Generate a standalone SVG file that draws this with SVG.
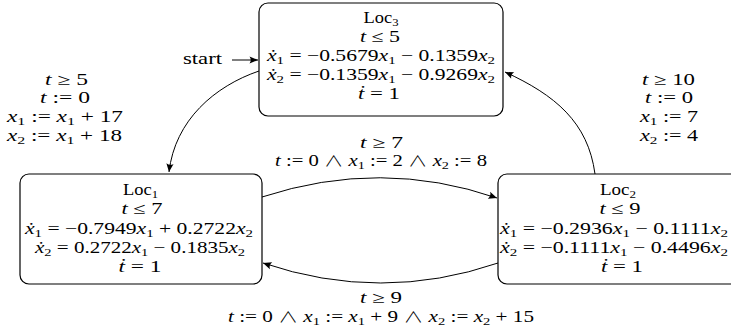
<svg xmlns="http://www.w3.org/2000/svg" width="731" height="329" viewBox="0 0 731 329">
<style>
text{font-family:"Liberation Serif","DejaVu Serif",serif;font-size:16px;fill:#000;text-anchor:middle}
.i{font-style:italic}
.s{font-size:11px}
.w{font-family:"Noto Sans CJK SC","DejaVu Sans",sans-serif;font-weight:300;font-size:15px}
.box{fill:#fff;stroke:#000;stroke-width:1.2}
.edge{fill:none;stroke:#000;stroke-width:1}
</style>
<defs>
<marker id="ah" viewBox="-10 -5 11 10" refX="0" refY="0" markerWidth="11" markerHeight="10" markerUnits="userSpaceOnUse" orient="auto">
<path d="M0,0 L-8.5,-3.6 Q-6,0 -8.5,3.6 Z" fill="#000"/>
</marker>
</defs>
<g id="connectors">
<path class="edge" d="M232,60 L258,60" marker-end="url(#ah)"/>
<path class="edge" d="M259,71 C215,86 175,120 169,172" marker-end="url(#ah)"/>
<path class="edge" d="M595,174 C588,122 555,95 505,72" marker-end="url(#ah)"/>
<path class="edge" d="M262,197 Q381,158 497,198" marker-end="url(#ah)"/>
<path class="edge" d="M498,263 Q381,303 263,263" marker-end="url(#ah)"/>
</g>
<g id="start">
<text x="202.5" y="64" textLength="39" lengthAdjust="spacingAndGlyphs">start</text>
</g>
<g id="loc3">
<rect class="box" x="259" y="3" width="244" height="113" rx="9"/>
<text x="381" y="23" textLength="35" lengthAdjust="spacingAndGlyphs">Loc<tspan class="s" dy="3">3</tspan></text>
<text x="380" y="42" textLength="40" lengthAdjust="spacingAndGlyphs"><tspan class="i">t</tspan> ≤ 5</text>
<text x="381" y="61" textLength="228" lengthAdjust="spacingAndGlyphs"><tspan class="i">ẋ</tspan><tspan class="s" dy="3">1</tspan><tspan dy="-3"> = −0.5679</tspan><tspan class="i">x</tspan><tspan class="s" dy="3">1</tspan><tspan dy="-3"> − 0.1359</tspan><tspan class="i">x</tspan><tspan class="s" dy="3">2</tspan></text>
<text x="381" y="80" textLength="228" lengthAdjust="spacingAndGlyphs"><tspan class="i">ẋ</tspan><tspan class="s" dy="3">2</tspan><tspan dy="-3"> = −0.1359</tspan><tspan class="i">x</tspan><tspan class="s" dy="3">1</tspan><tspan dy="-3"> − 0.9269</tspan><tspan class="i">x</tspan><tspan class="s" dy="3">2</tspan></text>
<text x="379" y="99" textLength="42" lengthAdjust="spacingAndGlyphs"><tspan class="i">ṫ</tspan> = 1</text>
</g>
<g id="loc1">
<rect class="box" x="20" y="174" width="242" height="110" rx="9"/>
<text x="140.5" y="195" textLength="35" lengthAdjust="spacingAndGlyphs">Loc<tspan class="s" dy="3">1</tspan></text>
<text x="142" y="214" textLength="41" lengthAdjust="spacingAndGlyphs"><tspan class="i">t</tspan> ≤ 7</text>
<text x="139" y="234" textLength="228" lengthAdjust="spacingAndGlyphs"><tspan class="i">ẋ</tspan><tspan class="s" dy="3">1</tspan><tspan dy="-3"> = −0.7949</tspan><tspan class="i">x</tspan><tspan class="s" dy="3">1</tspan><tspan dy="-3"> + 0.2722</tspan><tspan class="i">x</tspan><tspan class="s" dy="3">2</tspan></text>
<text x="140" y="253" textLength="210" lengthAdjust="spacingAndGlyphs"><tspan class="i">ẋ</tspan><tspan class="s" dy="3">2</tspan><tspan dy="-3"> = 0.2722</tspan><tspan class="i">x</tspan><tspan class="s" dy="3">1</tspan><tspan dy="-3"> − 0.1835</tspan><tspan class="i">x</tspan><tspan class="s" dy="3">2</tspan></text>
<text x="140" y="272" textLength="43" lengthAdjust="spacingAndGlyphs"><tspan class="i">ṫ</tspan> = 1</text>
</g>
<g id="loc2">
<rect class="box" x="498" y="174" width="245" height="110" rx="9"/>
<text x="618" y="195" textLength="36" lengthAdjust="spacingAndGlyphs">Loc<tspan class="s" dy="3">2</tspan></text>
<text x="620" y="214" textLength="41" lengthAdjust="spacingAndGlyphs"><tspan class="i">t</tspan> ≤ 9</text>
<text x="614" y="234" textLength="228" lengthAdjust="spacingAndGlyphs"><tspan class="i">ẋ</tspan><tspan class="s" dy="3">1</tspan><tspan dy="-3"> = −0.2936</tspan><tspan class="i">x</tspan><tspan class="s" dy="3">1</tspan><tspan dy="-3"> − 0.1111</tspan><tspan class="i">x</tspan><tspan class="s" dy="3">2</tspan></text>
<text x="614" y="253" textLength="228" lengthAdjust="spacingAndGlyphs"><tspan class="i">ẋ</tspan><tspan class="s" dy="3">2</tspan><tspan dy="-3"> = −0.1111</tspan><tspan class="i">x</tspan><tspan class="s" dy="3">1</tspan><tspan dy="-3"> − 0.4496</tspan><tspan class="i">x</tspan><tspan class="s" dy="3">2</tspan></text>
<text x="622" y="272" textLength="42" lengthAdjust="spacingAndGlyphs"><tspan class="i">ṫ</tspan> = 1</text>
</g>
<g id="label-3-1">
<text x="66.5" y="85" textLength="43" lengthAdjust="spacingAndGlyphs"><tspan class="i">t</tspan> ≥ 5</text>
<text x="65" y="103" textLength="50" lengthAdjust="spacingAndGlyphs"><tspan class="i">t</tspan> := 0</text>
<text x="65" y="122" textLength="116" lengthAdjust="spacingAndGlyphs"><tspan class="i">x</tspan><tspan class="s" dy="3">1</tspan><tspan dy="-3"> := </tspan><tspan class="i">x</tspan><tspan class="s" dy="3">1</tspan><tspan dy="-3"> + 17</tspan></text>
<text x="64.5" y="141" textLength="115" lengthAdjust="spacingAndGlyphs"><tspan class="i">x</tspan><tspan class="s" dy="3">2</tspan><tspan dy="-3"> := </tspan><tspan class="i">x</tspan><tspan class="s" dy="3">1</tspan><tspan dy="-3"> + 18</tspan></text>
</g>
<g id="label-2-3">
<text x="668.5" y="85" textLength="53" lengthAdjust="spacingAndGlyphs"><tspan class="i">t</tspan> ≥ 10</text>
<text x="669" y="103" textLength="48" lengthAdjust="spacingAndGlyphs"><tspan class="i">t</tspan> := 0</text>
<text x="669" y="122" textLength="58" lengthAdjust="spacingAndGlyphs"><tspan class="i">x</tspan><tspan class="s" dy="3">1</tspan><tspan dy="-3"> := 7</tspan></text>
<text x="669" y="141" textLength="58" lengthAdjust="spacingAndGlyphs"><tspan class="i">x</tspan><tspan class="s" dy="3">2</tspan><tspan dy="-3"> := 4</tspan></text>
</g>
<g id="label-1-2">
<text x="381.5" y="148" textLength="43" lengthAdjust="spacingAndGlyphs"><tspan class="i">t</tspan> ≥ 7</text>
<text x="381" y="166" textLength="212" lengthAdjust="spacingAndGlyphs"><tspan class="i">t</tspan> := 0 <tspan class="w">∧</tspan> <tspan class="i">x</tspan><tspan class="s" dy="3">1</tspan><tspan dy="-3"> := 2 </tspan><tspan class="w">∧</tspan> <tspan class="i">x</tspan><tspan class="s" dy="3">2</tspan><tspan dy="-3"> := 8</tspan></text>
</g>
<g id="label-2-1">
<text x="381" y="303" textLength="42" lengthAdjust="spacingAndGlyphs"><tspan class="i">t</tspan> ≥ 9</text>
<text x="381" y="322" textLength="306" lengthAdjust="spacingAndGlyphs"><tspan class="i">t</tspan> := 0 <tspan class="w">∧</tspan> <tspan class="i">x</tspan><tspan class="s" dy="3">1</tspan><tspan dy="-3"> := </tspan><tspan class="i">x</tspan><tspan class="s" dy="3">1</tspan><tspan dy="-3"> + 9 </tspan><tspan class="w">∧</tspan> <tspan class="i">x</tspan><tspan class="s" dy="3">2</tspan><tspan dy="-3"> := </tspan><tspan class="i">x</tspan><tspan class="s" dy="3">2</tspan><tspan dy="-3"> + 15</tspan></text>
</g>
</svg>
